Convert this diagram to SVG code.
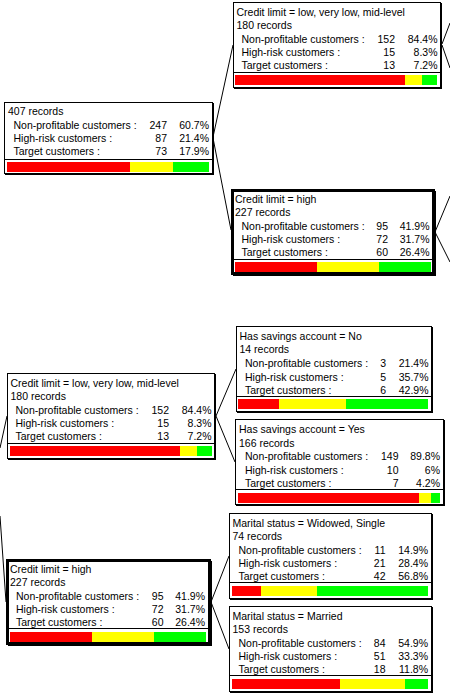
<svg xmlns="http://www.w3.org/2000/svg" width="450" height="694" viewBox="0 0 450 694">
<style>
.t{font-family:"Liberation Sans",Arial,sans-serif;font-size:10.5px;fill:#000}
.e{text-anchor:end}
.bx{fill:#fff;stroke:#000;stroke-width:1}
.tk{fill:#fff;stroke:#000;stroke-width:3}
.sh{fill:#000}
.sep{stroke:#000;stroke-width:1}
.r{fill:#ff0000}.y{fill:#ffff00}.g{fill:#00ff00}
.c{stroke:#000;stroke-width:1;fill:none}
</style>
<rect width="450" height="694" fill="#fff"/>
<g id="connectors">
<line class="c" x1="213" y1="137" x2="233" y2="45"/>
<line class="c" x1="213" y1="138" x2="231" y2="230"/>
<line class="c" x1="442" y1="44" x2="450" y2="23"/>
<line class="c" x1="442" y1="45" x2="450" y2="68"/>
<line class="c" x1="435" y1="232" x2="450" y2="196"/>
<line class="c" x1="435" y1="232" x2="450" y2="262"/>
<line class="c" x1="0" y1="448" x2="7" y2="416"/>
<line class="c" x1="0" y1="516" x2="6" y2="602"/>
<line class="c" x1="216" y1="416" x2="236" y2="369"/>
<line class="c" x1="216" y1="416" x2="235" y2="462"/>
<line class="c" x1="211" y1="602" x2="229" y2="556"/>
<line class="c" x1="211" y1="602" x2="229" y2="649"/>
</g>
<g id="root">
<rect class="sh" x="5" y="103" width="209" height="72"/>
<rect class="bx" x="4.5" y="102.5" width="208" height="71"/>
<text class="t" x="8" y="115">407 records</text>
<text class="t" x="13.5" y="129">Non-profitable customers :</text>
<text class="t" x="13.5" y="142">High-risk customers :</text>
<text class="t" x="13.5" y="155">Target customers :</text>
<text class="t e" x="167" y="129">247</text>
<text class="t e" x="167" y="142">87</text>
<text class="t e" x="167" y="155">73</text>
<text class="t e" x="209" y="129">60.7%</text>
<text class="t e" x="209" y="142">21.4%</text>
<text class="t e" x="209" y="155">17.9%</text>
<line class="sep" x1="5" y1="159.5" x2="212" y2="159.5"/>
<rect class="r" x="7" y="162" width="123" height="10"/>
<rect class="y" x="130" y="162" width="43" height="10"/>
<rect class="g" x="173" y="162" width="36" height="10"/>
</g>
<g id="nodeA">
<rect class="sh" x="234" y="3" width="208" height="86"/>
<rect class="bx" x="233.5" y="2.5" width="207" height="85"/>
<text class="t" x="236.5" y="16">Credit limit = low, very low, mid-level</text>
<text class="t" x="236.5" y="29">180 records</text>
<text class="t" x="241.5" y="43">Non-profitable customers :</text>
<text class="t" x="241.5" y="56">High-risk customers :</text>
<text class="t" x="241.5" y="69">Target customers :</text>
<text class="t e" x="395" y="43">152</text>
<text class="t e" x="395" y="56">15</text>
<text class="t e" x="395" y="69">13</text>
<text class="t e" x="437.5" y="43">84.4%</text>
<text class="t e" x="437.5" y="56">8.3%</text>
<text class="t e" x="437.5" y="69">7.2%</text>
<line class="sep" x1="234" y1="72.5" x2="441" y2="72.5"/>
<rect class="r" x="235" y="75" width="170" height="10"/>
<rect class="y" x="405" y="75" width="17" height="10"/>
<rect class="g" x="422" y="75" width="15" height="10"/>
</g>
<g id="nodeB">
<rect class="sh" x="233" y="191" width="203" height="85"/>
<rect class="tk" x="232.5" y="190.5" width="201" height="83"/>
<text class="t" x="235" y="203">Credit limit = high</text>
<text class="t" x="235" y="215.5">227 records</text>
<text class="t" x="241.5" y="230">Non-profitable customers :</text>
<text class="t" x="241.5" y="243">High-risk customers :</text>
<text class="t" x="241.5" y="256">Target customers :</text>
<text class="t e" x="388" y="230">95</text>
<text class="t e" x="388" y="243">72</text>
<text class="t e" x="388" y="256">60</text>
<text class="t e" x="429.5" y="230">41.9%</text>
<text class="t e" x="429.5" y="243">31.7%</text>
<text class="t e" x="429.5" y="256">26.4%</text>
<line class="sep" x1="233" y1="259.5" x2="433" y2="259.5"/>
<rect class="r" x="235" y="262" width="82" height="10"/>
<rect class="y" x="317" y="262" width="62" height="10"/>
<rect class="g" x="379" y="262" width="52" height="10"/>
</g>
<g id="nodeC">
<rect class="sh" x="8" y="374" width="208" height="86"/>
<rect class="bx" x="7.5" y="373.5" width="207" height="85"/>
<text class="t" x="10.5" y="387">Credit limit = low, very low, mid-level</text>
<text class="t" x="10.5" y="400">180 records</text>
<text class="t" x="15.5" y="414">Non-profitable customers :</text>
<text class="t" x="15.5" y="427">High-risk customers :</text>
<text class="t" x="15.5" y="440">Target customers :</text>
<text class="t e" x="169" y="414">152</text>
<text class="t e" x="169" y="427">15</text>
<text class="t e" x="169" y="440">13</text>
<text class="t e" x="211.5" y="414">84.4%</text>
<text class="t e" x="211.5" y="427">8.3%</text>
<text class="t e" x="211.5" y="440">7.2%</text>
<line class="sep" x1="8" y1="443.5" x2="215" y2="443.5"/>
<rect class="r" x="10" y="446" width="170" height="10"/>
<rect class="y" x="180" y="446" width="17" height="10"/>
<rect class="g" x="197" y="446" width="15" height="10"/>
</g>
<g id="nodeD">
<rect class="sh" x="237" y="327" width="196" height="86"/>
<rect class="bx" x="236.5" y="326.5" width="195" height="85"/>
<text class="t" x="239.5" y="340">Has savings account = No</text>
<text class="t" x="239.5" y="353">14 records</text>
<text class="t" x="245" y="367">Non-profitable customers :</text>
<text class="t" x="245" y="380.5">High-risk customers :</text>
<text class="t" x="245" y="394">Target customers :</text>
<text class="t e" x="386" y="367">3</text>
<text class="t e" x="386" y="380.5">5</text>
<text class="t e" x="386" y="394">6</text>
<text class="t e" x="428.5" y="367">21.4%</text>
<text class="t e" x="428.5" y="380.5">35.7%</text>
<text class="t e" x="428.5" y="394">42.9%</text>
<line class="sep" x1="237" y1="396.5" x2="431" y2="396.5"/>
<rect class="r" x="238" y="399" width="41" height="10"/>
<rect class="y" x="279" y="399" width="67" height="10"/>
<rect class="g" x="346" y="399" width="82" height="10"/>
</g>
<g id="nodeE">
<rect class="sh" x="236" y="420" width="209" height="86"/>
<rect class="bx" x="235.5" y="419.5" width="208" height="85"/>
<text class="t" x="239" y="433">Has savings account = Yes</text>
<text class="t" x="239" y="446.5">166 records</text>
<text class="t" x="245" y="460">Non-profitable customers :</text>
<text class="t" x="245" y="473.5">High-risk customers :</text>
<text class="t" x="245" y="487">Target customers :</text>
<text class="t e" x="398.5" y="460">149</text>
<text class="t e" x="398.5" y="473.5">10</text>
<text class="t e" x="398.5" y="487">7</text>
<text class="t e" x="440" y="460">89.8%</text>
<text class="t e" x="440" y="473.5">6%</text>
<text class="t e" x="440" y="487">4.2%</text>
<line class="sep" x1="236" y1="489.5" x2="443" y2="489.5"/>
<rect class="r" x="238" y="493" width="181" height="10"/>
<rect class="y" x="419" y="493" width="12" height="10"/>
<rect class="g" x="431" y="493" width="9" height="10"/>
</g>
<g id="nodeF">
<rect class="sh" x="8" y="561" width="204" height="85"/>
<rect class="tk" x="7.5" y="560.5" width="202" height="83"/>
<text class="t" x="10" y="573">Credit limit = high</text>
<text class="t" x="10" y="585.5">227 records</text>
<text class="t" x="16" y="600">Non-profitable customers :</text>
<text class="t" x="16" y="613">High-risk customers :</text>
<text class="t" x="16" y="626">Target customers :</text>
<text class="t e" x="163.5" y="600">95</text>
<text class="t e" x="163.5" y="613">72</text>
<text class="t e" x="163.5" y="626">60</text>
<text class="t e" x="205" y="600">41.9%</text>
<text class="t e" x="205" y="613">31.7%</text>
<text class="t e" x="205" y="626">26.4%</text>
<line class="sep" x1="8" y1="628.5" x2="210" y2="628.5"/>
<rect class="r" x="10" y="632" width="82" height="10"/>
<rect class="y" x="92" y="632" width="62" height="10"/>
<rect class="g" x="154" y="632" width="52" height="10"/>
</g>
<g id="nodeG">
<rect class="sh" x="230" y="514" width="203" height="86"/>
<rect class="bx" x="229.5" y="513.5" width="202" height="85"/>
<text class="t" x="232.5" y="527">Marital status = Widowed, Single</text>
<text class="t" x="232.5" y="539.5">74 records</text>
<text class="t" x="238.5" y="553.5">Non-profitable customers :</text>
<text class="t" x="238.5" y="566.5">High-risk customers :</text>
<text class="t" x="238.5" y="579.5">Target customers :</text>
<text class="t e" x="385.5" y="553.5">11</text>
<text class="t e" x="385.5" y="566.5">21</text>
<text class="t e" x="385.5" y="579.5">42</text>
<text class="t e" x="428" y="553.5">14.9%</text>
<text class="t e" x="428" y="566.5">28.4%</text>
<text class="t e" x="428" y="579.5">56.8%</text>
<line class="sep" x1="230" y1="582.5" x2="431" y2="582.5"/>
<rect class="r" x="232" y="586" width="29" height="10"/>
<rect class="y" x="261" y="586" width="56" height="10"/>
<rect class="g" x="317" y="586" width="111" height="10"/>
</g>
<g id="nodeH">
<rect class="sh" x="230" y="607" width="203" height="86"/>
<rect class="bx" x="229.5" y="606.5" width="202" height="85"/>
<text class="t" x="232.5" y="620">Marital status = Married</text>
<text class="t" x="232.5" y="632.5">153 records</text>
<text class="t" x="238.5" y="646.5">Non-profitable customers :</text>
<text class="t" x="238.5" y="659.5">High-risk customers :</text>
<text class="t" x="238.5" y="672.5">Target customers :</text>
<text class="t e" x="385.5" y="646.5">84</text>
<text class="t e" x="385.5" y="659.5">51</text>
<text class="t e" x="385.5" y="672.5">18</text>
<text class="t e" x="428" y="646.5">54.9%</text>
<text class="t e" x="428" y="659.5">33.3%</text>
<text class="t e" x="428" y="672.5">11.8%</text>
<line class="sep" x1="230" y1="675.5" x2="431" y2="675.5"/>
<rect class="r" x="232" y="679" width="108" height="10"/>
<rect class="y" x="340" y="679" width="65" height="10"/>
<rect class="g" x="405" y="679" width="23" height="10"/>
</g>
</svg>
